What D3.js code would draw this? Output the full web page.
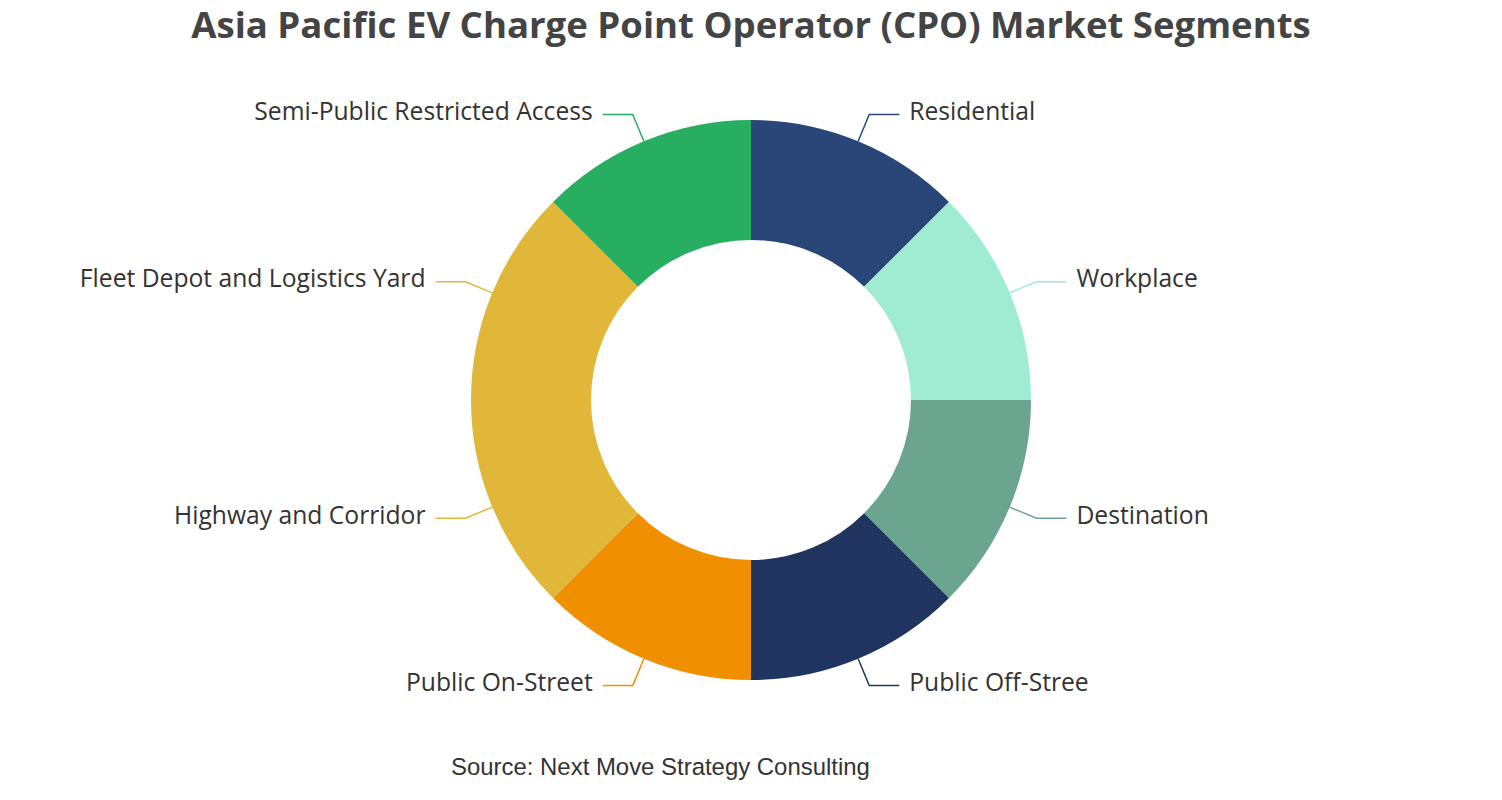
<!DOCTYPE html>
<html>
<head>
<meta charset="utf-8">
<script src="https://cdn.jsdelivr.net/npm/d3@7/dist/d3.min.js"></script>
<style>
  html, body { margin: 0; padding: 0; background: #ffffff; }
  svg { display: block; }
</style>
</head>
<body>
<svg id="chart" width="1502" height="800"></svg>
<script>
const titleText = "Asia Pacific EV Charge Point Operator (CPO) Market Segments";
const sourceText = "Source: Next Move Strategy Consulting";
const categories = [
  "Residential",
  "Workplace",
  "Destination",
  "Public Off-Stree",
  "Public On-Street",
  "Highway and Corridor",
  "Fleet Depot and Logistics Yard",
  "Semi-Public Restricted Access"
];
const values = [12.5, 12.5, 12.5, 12.5, 12.5, 12.5, 12.5, 12.5];
const colors = ["#2A4679", "#A0ECD2", "#6BA48F", "#1F345E", "#F08F00", "#E1B73A", "#E1B73A", "#27AE60"];

const W = 1502, H = 800;
const cx = 751, cy = 400;
const outerR = 280, innerR = 160;
const leg1 = 29, leg2 = 30, gap = 10;

const svg = d3.select("#chart");

// Title
const title = svg.append("text")
  .attr("x", cx).attr("y", 38)
  .attr("text-anchor", "middle")
  .attr("font-family", "'Open Sans', 'Noto Sans', sans-serif")
  .attr("font-weight", 700)
  .attr("font-size", 33)
  .attr("fill", "#444444")
  .text(titleText);
{
  const w = title.node().getComputedTextLength();
  title.attr("font-size", 33 * 1120 / w);
}

const data = categories.map((c, i) => ({ name: c, value: values[i], color: colors[i] }));

const pie = d3.pie().value(d => d.value).sort(null);
const arc = d3.arc().innerRadius(innerR).outerRadius(outerR);
const arcs = pie(data);

const g = svg.append("g").attr("transform", `translate(${cx},${cy})`);

g.selectAll("path.slice")
  .data(arcs)
  .join("path")
  .attr("class", "slice")
  .attr("d", arc)
  .attr("fill", d => d.data.color);

// Labels
const labelFont = "'Open Sans', 'Noto Sans', sans-serif";
let labelSize = 22;
{
  const t = svg.append("text").attr("font-family", labelFont).attr("font-size", 22)
    .text("Fleet Depot and Logistics Yard");
  const w = t.node().getComputedTextLength();
  labelSize = 22 * 346 / w;
  t.remove();
}

arcs.forEach(d => {
  const mid = (d.startAngle + d.endAngle) / 2;
  const sx = Math.sin(mid), sy = -Math.cos(mid);
  const p0 = [sx * outerR, sy * outerR];
  const p1 = [sx * (outerR + leg1), sy * (outerR + leg1)];
  const right = sx >= 0;
  const p2 = [p1[0] + (right ? leg2 : -leg2), p1[1]];
  g.append("polyline")
    .attr("points", [p0, p1, p2].map(p => p.join(",")).join(" "))
    .attr("fill", "none")
    .attr("stroke", d.data.color)
    .attr("stroke-width", 1.5);
  g.append("text")
    .attr("x", p2[0] + (right ? gap : -gap))
    .attr("y", p2[1] - 3)
    .attr("dy", "0.35em")
    .attr("text-anchor", right ? "start" : "end")
    .attr("font-family", labelFont)
    .attr("font-size", labelSize)
    .attr("fill", "#333333")
    .text(d.data.name);
});

// Source
const src = svg.append("text")
  .attr("x", 451).attr("y", 775)
  .attr("font-family", "'Liberation Sans', Arial, sans-serif")
  .attr("font-size", 20)
  .attr("fill", "#333333")
  .text(sourceText);
{
  const w = src.node().getComputedTextLength();
  src.attr("font-size", 20 * 419 / w);
}
</script>
</body>
</html>
